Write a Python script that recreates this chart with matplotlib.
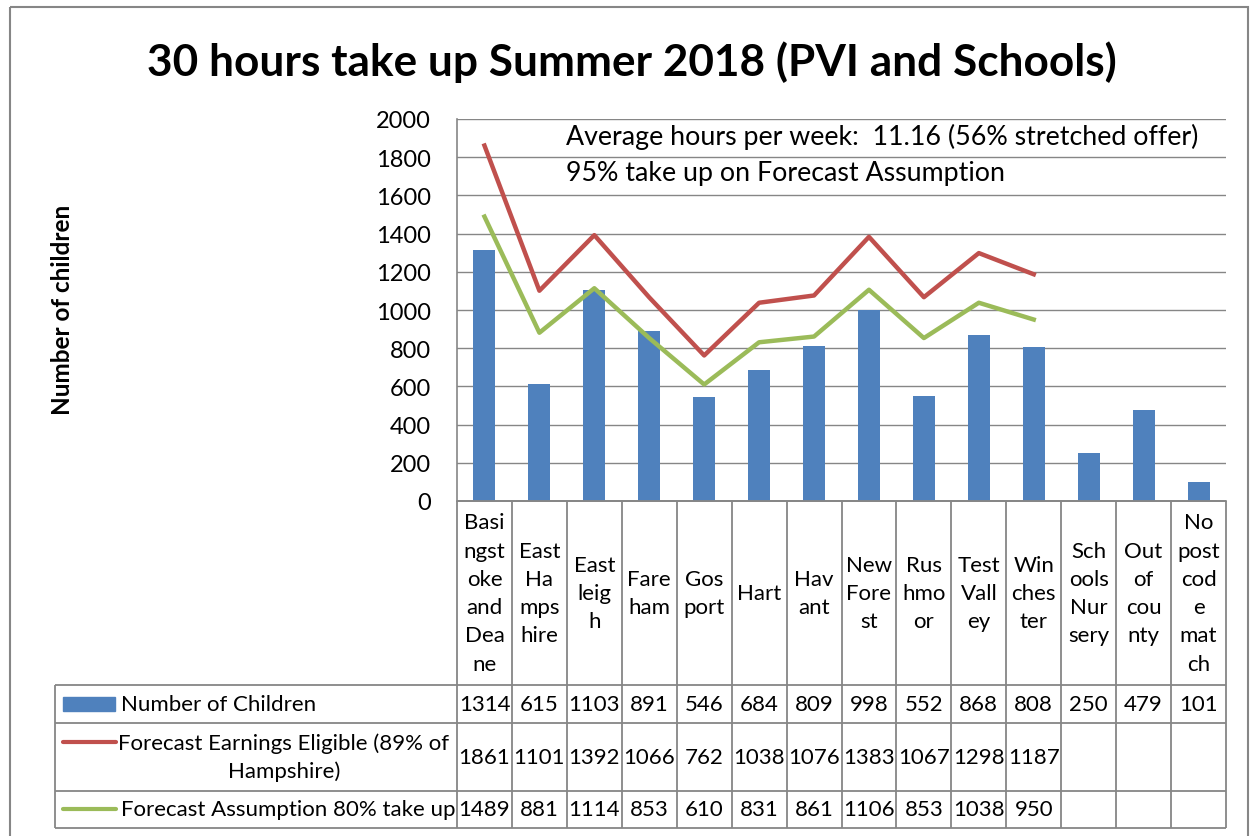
import numpy as np
import matplotlib.pyplot as plt
from matplotlib.patches import Rectangle

plt.rcParams['font.family'] = ['Lato', 'DejaVu Sans']

# data
categories = ["Basi\nngst\noke\nand\nDea\nne", "East\nHa\nmps\nhire", "East\nleig\nh",
              "Fare\nham", "Gos\nport", "Hart", "Hav\nant", "New\nFore\nst",
              "Rus\nhmo\nor", "Test\nVall\ney", "Win\nches\nter", "Sch\nools\nNur\nsery",
              "Out\nof\ncou\nnty", "No\npost\ncod\ne\nmat\nch"]
children = [1314, 615, 1103, 891, 546, 684, 809, 998, 552, 868, 808, 250, 479, 101]
eligible = [1861, 1101, 1392, 1066, 762, 1038, 1076, 1383, 1067, 1298, 1187]
assumption = [1489, 881, 1114, 853, 610, 831, 861, 1106, 853, 1038, 950]
series_names = ["Number of Children",
                "Forecast Earnings Eligible (89% of\nHampshire)",
                "Forecast Assumption 80% take up"]
yticks = list(range(0, 2001, 200))

title = "30 hours take up Summer 2018 (PVI and Schools)"
notes = ["Average hours per week:  11.16 (56% stretched offer)",
         "95% take up on Forecast Assumption"]

BLUE, RED, GREEN = '#4F81BD', '#C0504D', '#9BBB59'
GRID = '#868686'

W, H = 1255, 837
fig = plt.figure(figsize=(W / 100, H / 100), dpi=100)

# plot area (pixel layout of the reference)
left, right, top, base = 457, 1226, 120, 502
ax = fig.add_axes([left / W, 1 - base / H, (right - left) / W, (base - top) / H])
x = np.arange(len(categories))
ax.bar(x, children, width=0.4, color=BLUE, zorder=3)
ax.plot(x[:len(eligible)], eligible, color=RED, lw=3.2, zorder=4)
ax.plot(x[:len(assumption)], assumption, color=GREEN, lw=3.2, zorder=4)
ax.set_xlim(-0.5, len(categories) - 0.5)
ax.set_ylim(0, 2000)
ax.set_yticks(yticks)
ax.set_xticks([])
ax.yaxis.grid(True, color=GRID, lw=1)
ax.set_axisbelow(True)
for s in ['top', 'right']:
    ax.spines[s].set_visible(False)
for s in ['left', 'bottom']:
    ax.spines[s].set_color(GRID)
    ax.spines[s].set_linewidth(1.2)
ax.tick_params(axis='y', length=0, pad=19, labelsize=17)

for ny, txt in zip([137, 173], notes):
    fig.text(566 / W, 1 - ny / H, txt, fontsize=19.3, ha='left', va='center')
fig.text(632 / W, 1 - 62 / H, title, fontsize=31.8, fontweight='bold', ha='center', va='center')
fig.text(62 / W, 1 - 310 / H, "Number of children", fontsize=17.5, fontweight='bold',
         rotation=90, ha='center', va='center')

# overlay in pixel coordinates for the data table and outer frame
ov = fig.add_axes([0, 0, 1, 1])
ov.set_xlim(0, W)
ov.set_ylim(H, 0)
ov.axis('off')

ncol = len(categories)
colw = (right - left) / ncol
edges = left + np.arange(ncol + 1) * colw
centers = left + (np.arange(ncol) + 0.5) * colw
rows = [686, 724, 792, 829]
lkw = dict(color=GRID, lw=1.3, solid_capstyle='butt')

for e in edges:
    ov.plot([e, e], [base, rows[-1]], **lkw)
ov.plot([left, right], [base, base], **lkw)
for r in rows:
    ov.plot([55, right], [r, r], **lkw)
ov.plot([55, 55], [rows[0], rows[-1]], **lkw)

for cx, cat in zip(centers, categories):
    ov.text(cx, (base + rows[0]) / 2, cat, ha='center', va='center', fontsize=16, linespacing=1.52)

row_y = [705, 758, 810]
for ry, vals in zip(row_y, [children, eligible, assumption]):
    for cx, v in zip(centers, vals):
        ov.text(cx, ry, str(v), ha='center', va='center', fontsize=16)

# legend keys in the row labels
ov.add_patch(Rectangle((63, 698), 52, 14, color=BLUE))
ov.plot([63, 116], [743, 743], color=RED, lw=3, solid_capstyle='round')
ov.plot([63, 116], [810, 810], color=GREEN, lw=3, solid_capstyle='round')
ov.text(121, row_y[0], series_names[0], ha='left', va='center', fontsize=16)
ov.text(284, 758, series_names[1], ha='center', va='center', fontsize=16,
        multialignment='center', linespacing=1.45)
ov.text(121, row_y[2], series_names[2], ha='left', va='center', fontsize=16)

ov.add_patch(Rectangle((10, 8), 1238, 860, fill=False, edgecolor=GRID, lw=1.5, clip_on=False))

fig.savefig('out.png', dpi=100)
